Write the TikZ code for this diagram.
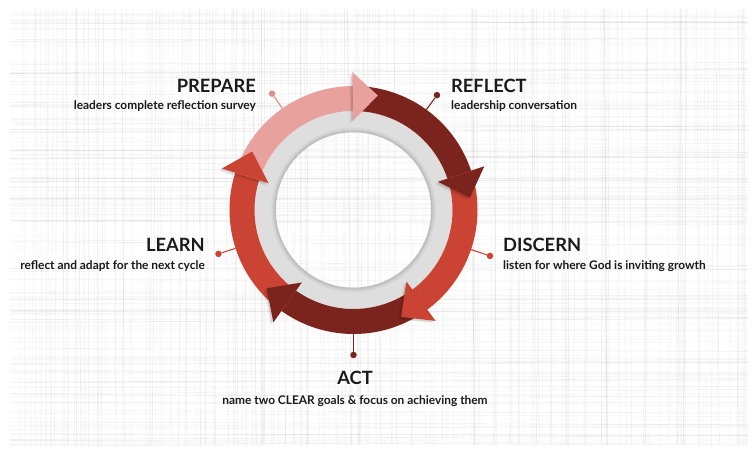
\documentclass[tikz,border=0pt]{standalone}
\usepackage{fontspec}
\setmainfont{Lato}
\definecolor{cpink}{HTML}{E8A19D}
\definecolor{cpinkpin}{HTML}{DE8F8A}
\definecolor{cdark}{HTML}{7B241E}
\definecolor{cred}{HTML}{CB4433}
\definecolor{cring}{HTML}{DEDEDE}
\definecolor{ctext}{HTML}{1A1A1A}
\newcommand{\rin}{99}
\newcommand{\rout}{124}
\newcommand{\hin}{89}
\newcommand{\hout}{138}
\newcommand{\rtip}{117}
\newcommand{\myband}[3]{% color, start angle, head-base angle
  \fill[#1] (#2:\rout) arc[start angle=#2, end angle=#3, radius=\rout]
     -- (#3:\rin) arc[start angle=#3, end angle=#2, radius=\rin] -- cycle;}
\newcommand{\myhead}[3]{% color, head-base angle, tip angle
  \fill[black, opacity=0.10] ([shift={(-1.5,-1.5)}]#2:\hout) -- ([shift={(-1.5,-1.5)}]#3:\rtip) -- ([shift={(-1.5,-1.5)}]#2:\hin) -- cycle;
  \fill[black, opacity=0.06] ([shift={(-3,-2.5)}]#2:\hout) -- ([shift={(-3,-2.5)}]#3:\rtip) -- ([shift={(-3,-2.5)}]#2:\hin) -- cycle;
  \fill[#1] (#2:\hout) -- (#3:\rtip) -- (#2:\hin) -- cycle;}
\tikzset{
  title/.style={font=\bfseries\fontsize{18.3}{20}\selectfont, text=ctext, inner sep=0pt},
  sub/.style={font=\bfseries\fontsize{11.9}{13}\selectfont, text=ctext, inner sep=0pt},
  pinline/.style={line width=1.1pt},
  pindot/.style={circle, inner sep=0pt, minimum size=6.5pt},
}
\begin{document}
\begin{tikzpicture}[x=1pt,y=1pt]
\useasboundingbox (0,0) rectangle (755,453);
\fill[white] (0,0) rectangle (755,453);
% linen texture
\pgfmathsetseed{11}
\begin{scope}
\clip (10,8) rectangle (748,444);
\foreach \i in {1,...,190}{
  \pgfmathsetmacro\yy{8+rnd*436}
  \pgfmathsetmacro\dy{rnd*8-4}
  \pgfmathsetmacro\op{0.025+0.08*rnd}
  \pgfmathsetmacro\lw{0.3+0.5*rnd}
  \draw[black!60, opacity=\op, line width=\lw pt] (10,\yy) -- (748,\yy+\dy);
}
\foreach \i in {1,...,220}{
  \pgfmathsetmacro\xx{10+rnd*738}
  \pgfmathsetmacro\dx{rnd*10-5}
  \pgfmathsetmacro\op{0.025+0.08*rnd}
  \pgfmathsetmacro\lw{0.3+0.5*rnd}
  \draw[black!60, opacity=\op, line width=\lw pt] (\xx,8) -- (\xx+\dx,444);
}
\end{scope}
\begin{scope}[shift={(353.5,243)}]
  % gray ring
  \fill[cring, even odd rule] (0,0) circle[radius=\rin] (0,0) circle[radius=78];
  \foreach \k/\o in {0/0.16,1/0.11,2/0.07,3/0.045,4/0.025}{
    \draw[black, opacity=\o, line width=1pt] (0,0) circle[radius=78+\k];
  }
  % bands
  \myband{cpink}{161.5}{90.5}
  \myband{cdark}{90.5}{18.5}
  \myband{cred}{18.5}{-53.5}
  \myband{cdark}{-53.5}{-125.5}
  \myband{cred}{-125.5}{-197.5}
  % heads
  \myhead{cpink}{90.5}{78}
  \myhead{cdark}{18.5}{6}
  \myhead{cred}{-53.5}{-66}
  \myhead{cdark}{-125.5}{-138}
  \myhead{cred}{-197.5}{-210}
  % pins
  \coordinate (pa1) at (125:\rout);
  \node[pindot, fill=cpinkpin] (pb1) at (125:142) {};
  \coordinate (pa2) at (54:\rout);
  \node[pindot, fill=cdark] (pb2) at (54:142) {};
  \coordinate (pa3) at (-18.6:\rout);
  \node[pindot, fill=cred] (pb3) at (-18.6:144) {};
  \coordinate (pa4) at (-90:\rout);
  \node[pindot, fill=cdark] (pb4) at (-90:145) {};
  \coordinate (pa5) at (-162:\rout);
  \node[pindot, fill=cred] (pb5) at (-162:142) {};
  \draw[pinline, cpinkpin] (pa1) -- (pb1);
  \draw[pinline, cdark] (pa2) -- (pb2);
  \draw[pinline, cred] (pa3) -- (pb3);
  \draw[pinline, cdark] (pa4) -- (pb4);
  \draw[pinline, cred] (pa5) -- (pb5);
\end{scope}
% labels
\node[title, anchor=base east] (t1) at (256,360) {PREPARE};
\node[sub, anchor=base east] (s1) at (256,343) {leaders complete reflection survey};
\node[title, anchor=base west] (t2) at (451,360) {REFLECT};
\node[sub, anchor=base west] (s2) at (451,343) {leadership conversation};
\node[title, anchor=base west] (t3) at (503,201) {DISCERN};
\node[sub, anchor=base west] (s3) at (503,183) {listen for where God is inviting growth};
\node[title, anchor=base east] (t5) at (205,201) {LEARN};
\node[sub, anchor=base east] (s5) at (205,183) {reflect and adapt for the next cycle};
\node[title, anchor=base] (t4) at (355,69) {ACT};
\node[sub, anchor=base] (s4) at (355,49) {name two CLEAR goals \& focus on achieving them};
\end{tikzpicture}
\end{document}
